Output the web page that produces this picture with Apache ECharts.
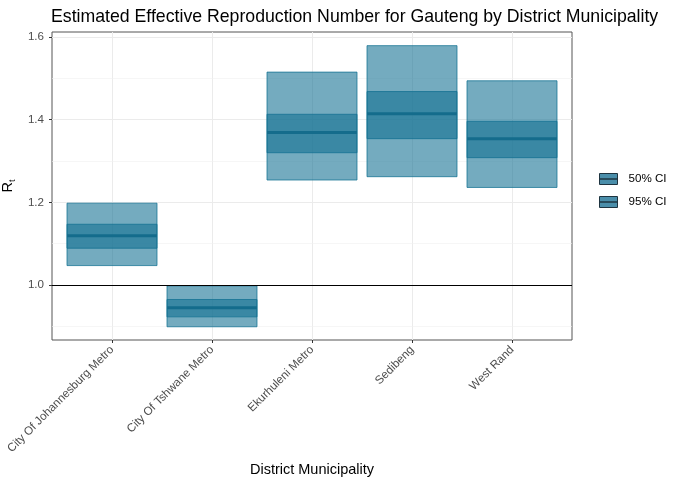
<!DOCTYPE html>
<html><head><meta charset="utf-8">
<script src="https://cdn.jsdelivr.net/npm/echarts@6/dist/echarts.min.js"></script>
<style>html,body{margin:0;padding:0;background:#fff}#c{width:680px;height:486px}</style>
</head><body><div id="c"></div>
<script>
const categories = ["City Of Johannesburg Metro","City Of Tshwane Metro","Ekurhuleni Metro","Sedibeng","West Rand"];
const lower95 = [1.047,0.899,1.254,1.262,1.236];
const upper95 = [1.198,0.998,1.515,1.579,1.494];
const lower50 = [1.089,0.923,1.320,1.354,1.308];
const upper50 = [1.147,0.965,1.413,1.468,1.396];
const median  = [1.119,0.945,1.369,1.414,1.354];
const yTicks = [1.0,1.2,1.4,1.6];
const yMinor = [0.9,1.1,1.3,1.5];
const legendLabels = ["50% CI","95% CI"];

const FONT = "Liberation Sans, Arial, sans-serif";
const BASE = 'rgba(18,112,146,0.59)';
const EDGE = 'rgba(18,112,146,0.75)';
const HALF = 0.45;
const xPos = categories.map((c,i)=>i+1);

function rectItem(params, api){
  const x = api.value(0), lo = api.value(1), hi = api.value(2);
  const p1 = api.coord([x-HALF, hi]);
  const p2 = api.coord([x+HALF, lo]);
  return {type:'rect', shape:{x:p1[0], y:p1[1], width:p2[0]-p1[0], height:p2[1]-p1[1]},
    style:{fill:BASE, stroke:EDGE, lineWidth:1}};
}
function medItem(params, api){
  const x = api.value(0), m = api.value(1);
  const p1 = api.coord([x-HALF, m]);
  const p2 = api.coord([x+HALF, m]);
  return {type:'line', shape:{x1:p1[0], y1:p1[1], x2:p2[0], y2:p2[1]},
    style:{stroke:'#146c8c', lineWidth:3}};
}

const chart = echarts.init(document.getElementById('c'), null, {renderer:'canvas'});
chart.setOption({
  animation:false,
  textStyle:{fontFamily:FONT},
  title:{text:"Estimated Effective Reproduction Number for Gauteng by District Municipality",
    left:46, top:3, textStyle:{fontFamily:FONT, fontSize:17.7, fontWeight:'normal', color:'#000'}},
  grid:{left:52, right:108, top:32, bottom:146, containLabel:false, outerBoundsMode:'none',
    show:true, borderColor:'#555', borderWidth:1, backgroundColor:'transparent'},
  xAxis:{type:'value', min:0.4, max:5.6,
    name:'District Municipality', nameLocation:'middle', nameGap:122,
    nameTextStyle:{fontFamily:FONT, fontSize:14.5, color:'#000'},
    axisLine:{show:false},
    axisTick:{show:true, customValues:xPos, length:3, lineStyle:{color:'#333'}},
    axisLabel:{customValues:xPos, rotate:45, fontSize:11.6, color:'#4d4d4d', margin:8,
      formatter:v=>categories[Math.round(v)-1]},
    splitLine:{show:true, lineStyle:{color:'#ebebeb', width:1}}
  },
  yAxis:{type:'value', min:0.867, max:1.612,
    name:'{a|R}{b|t}', nameLocation:'middle', nameGap:32, nameRotate:90,
    nameTextStyle:{rich:{a:{fontFamily:FONT, fontSize:14.5, color:'#000'}, b:{fontFamily:FONT, fontSize:9, color:'#000', padding:[8,0,0,0]}}},
    axisLine:{show:false},
    axisTick:{show:true, customValues:yTicks, length:3, lineStyle:{color:'#333'}},
    axisLabel:{customValues:yTicks, fontSize:11.6, color:'#4d4d4d', margin:8, formatter:v=>v.toFixed(1)},
    splitLine:{show:true, lineStyle:{color:'#ebebeb', width:1}}
  },
  series:[
    {type:'line', data:[], z:1, silent:true,
      markLine:{z:1, silent:true, symbol:'none', label:{show:false},
        lineStyle:{color:'#f0f0f0', width:0.6, type:'solid'},
        data:yMinor.map(v=>({yAxis:v}))}},
    {type:'custom', name:'95% CI', z:2, renderItem:rectItem,
      data:xPos.map((x,i)=>[x, lower95[i], upper95[i]])},
    {type:'custom', name:'50% CI', z:3, renderItem:rectItem,
      data:xPos.map((x,i)=>[x, lower50[i], upper50[i]])},
    {type:'custom', name:'median', z:4, renderItem:medItem,
      data:xPos.map((x,i)=>[x, median[i]])},
    {type:'line', data:[], z:5, silent:true,
      markLine:{z:6, silent:true, symbol:'none', label:{show:false},
        lineStyle:{color:'#000', width:1.2, type:'solid'},
        data:[{yAxis:1}]}}
  ],
  graphic: legendLabels.map((t,i)=>({
    type:'group', left:597, top:173+i*23,
    children:[
      {type:'rect', shape:{x:0,y:0,width:18,height:11}, style:{fill:'#4a8eaa', stroke:'#1e3440', lineWidth:1}},
      {type:'line', shape:{x1:0,y1:5.5,x2:18,y2:5.5}, style:{stroke:'#1e3440', lineWidth:1.5}},
      {type:'text', x:29, y:5.5, style:{text:t, fontFamily:FONT, fontSize:11.6, fill:'#000', verticalAlign:'middle'}}
    ]}))
});
</script></body></html>
